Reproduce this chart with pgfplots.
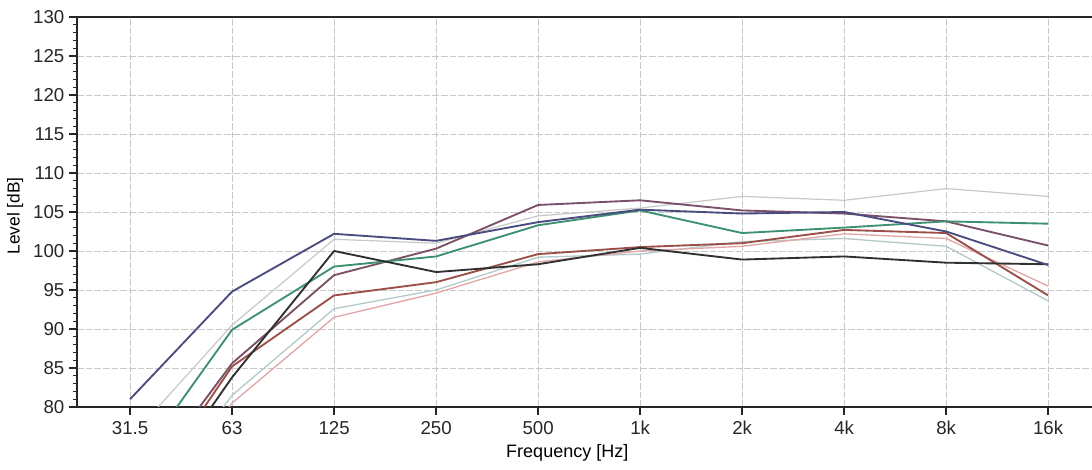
\documentclass[border=0pt]{standalone}
\usepackage{pgfplots}
\pgfplotsset{compat=1.18}
\usepackage{pgfplotstable}
\usepackage{fontspec}
\setmainfont{Liberation Sans}

\definecolor{slate}{HTML}{4A4C80}
\definecolor{mauve}{HTML}{7B5068}
\definecolor{blk}{HTML}{303030}
\definecolor{grn}{HTML}{3D9070}
\definecolor{brn}{HTML}{9A5048}
\definecolor{cyg}{HTML}{B4CACA}
\definecolor{ltg}{HTML}{C8C8C8}
\definecolor{pnk}{HTML}{E2A6A6}
\definecolor{gridc}{HTML}{C8C8C8}

% octave bands 31.5 ... 16k at positions 0..9
\pgfplotstableread{
x  sl     ma     bk     gr     br     cy     lg     pk
0  81.0   68.0   65.0   71.6   66.0   64.0   76.0   62.0
1  94.8   85.6   83.8   89.9   85.2   81.5   90.5   80.5
2  102.2  96.9   100.0  98.0   94.3   92.6   101.5  91.5
3  101.3  100.3  97.3   99.3   96.0   95.0   101.0  94.6
4  103.7  105.9  98.3   103.3  99.6   99.2   104.5  98.6
5  105.3  106.5  100.4  105.2  100.5  99.6   105.5  100.0
6  104.8  105.2  98.9   102.3  101.0  101.2  107.0  100.6
7  105.0  104.8  99.3   103.0  102.7  101.6  106.5  102.2
8  102.5  103.8  98.5   103.8  102.3  100.6  108.0  101.6
9  98.2   100.7  98.3   103.5  94.3   93.6   107.0  95.5
}\spl

\begin{document}
\begin{tikzpicture}
\begin{axis}[
    scale only axis,
    width=761.25pt, height=292.5pt,
    xmin=-0.52, xmax=9.43,
    ymin=80, ymax=130,
    axis x line*=box, axis y line*=left,
    axis line style={line width=1.2pt, black!85},
    xtick={0,...,9},
    xticklabels={31.5,63,125,250,500,1k,2k,4k,8k,16k},
    ytick={80,85,...,130},
    minor ytick={80,81,...,130},
    xtick pos=bottom, ytick pos=left,
    tick align=outside,
    major tick length=6pt, minor tick length=3pt,
    tick style={line width=1pt, black!85},
    minor tick style={line width=0.8pt, black!85},
    grid=major,
    major grid style={gridc, dash pattern=on 5pt off 1.5pt, line width=0.7pt},
    tick label style={font=\fontsize{14}{16}\selectfont, text=black!85},
    /pgf/number format/assume math mode=true,
    xticklabel style={yshift=-1pt},
    ylabel={Level [dB]},
    ylabel style={font=\fontsize{13}{15}\selectfont, at={(axis description cs:-0.061,0.49)}, anchor=center},
    xlabel={Frequency [Hz]},
    xlabel style={font=\fontsize{13.5}{15}\selectfont, at={(axis description cs:0.483,-0.118)}, anchor=center},
    every axis plot/.append style={line width=1.4pt, line join=round},
]
\addplot[ltg, line width=0.9pt] table[x=x,y=lg] {\spl};
\addplot[cyg, line width=1pt] table[x=x,y=cy] {\spl};
\addplot[pnk, line width=1pt] table[x=x,y=pk] {\spl};
\addplot[brn] table[x=x,y=br] {\spl};
\addplot[mauve] table[x=x,y=ma] {\spl};
\addplot[grn] table[x=x,y=gr] {\spl};
\addplot[blk] table[x=x,y=bk] {\spl};
\addplot[slate] table[x=x,y=sl] {\spl};
\coordinate (bl) at (axis description cs:-0.0759,-0.1615);
\coordinate (tr) at (axis description cs:1,1.0436);
\end{axis}
\pgfresetboundingbox
\path[use as bounding box] (bl) rectangle (tr);
\end{tikzpicture}
\end{document}
